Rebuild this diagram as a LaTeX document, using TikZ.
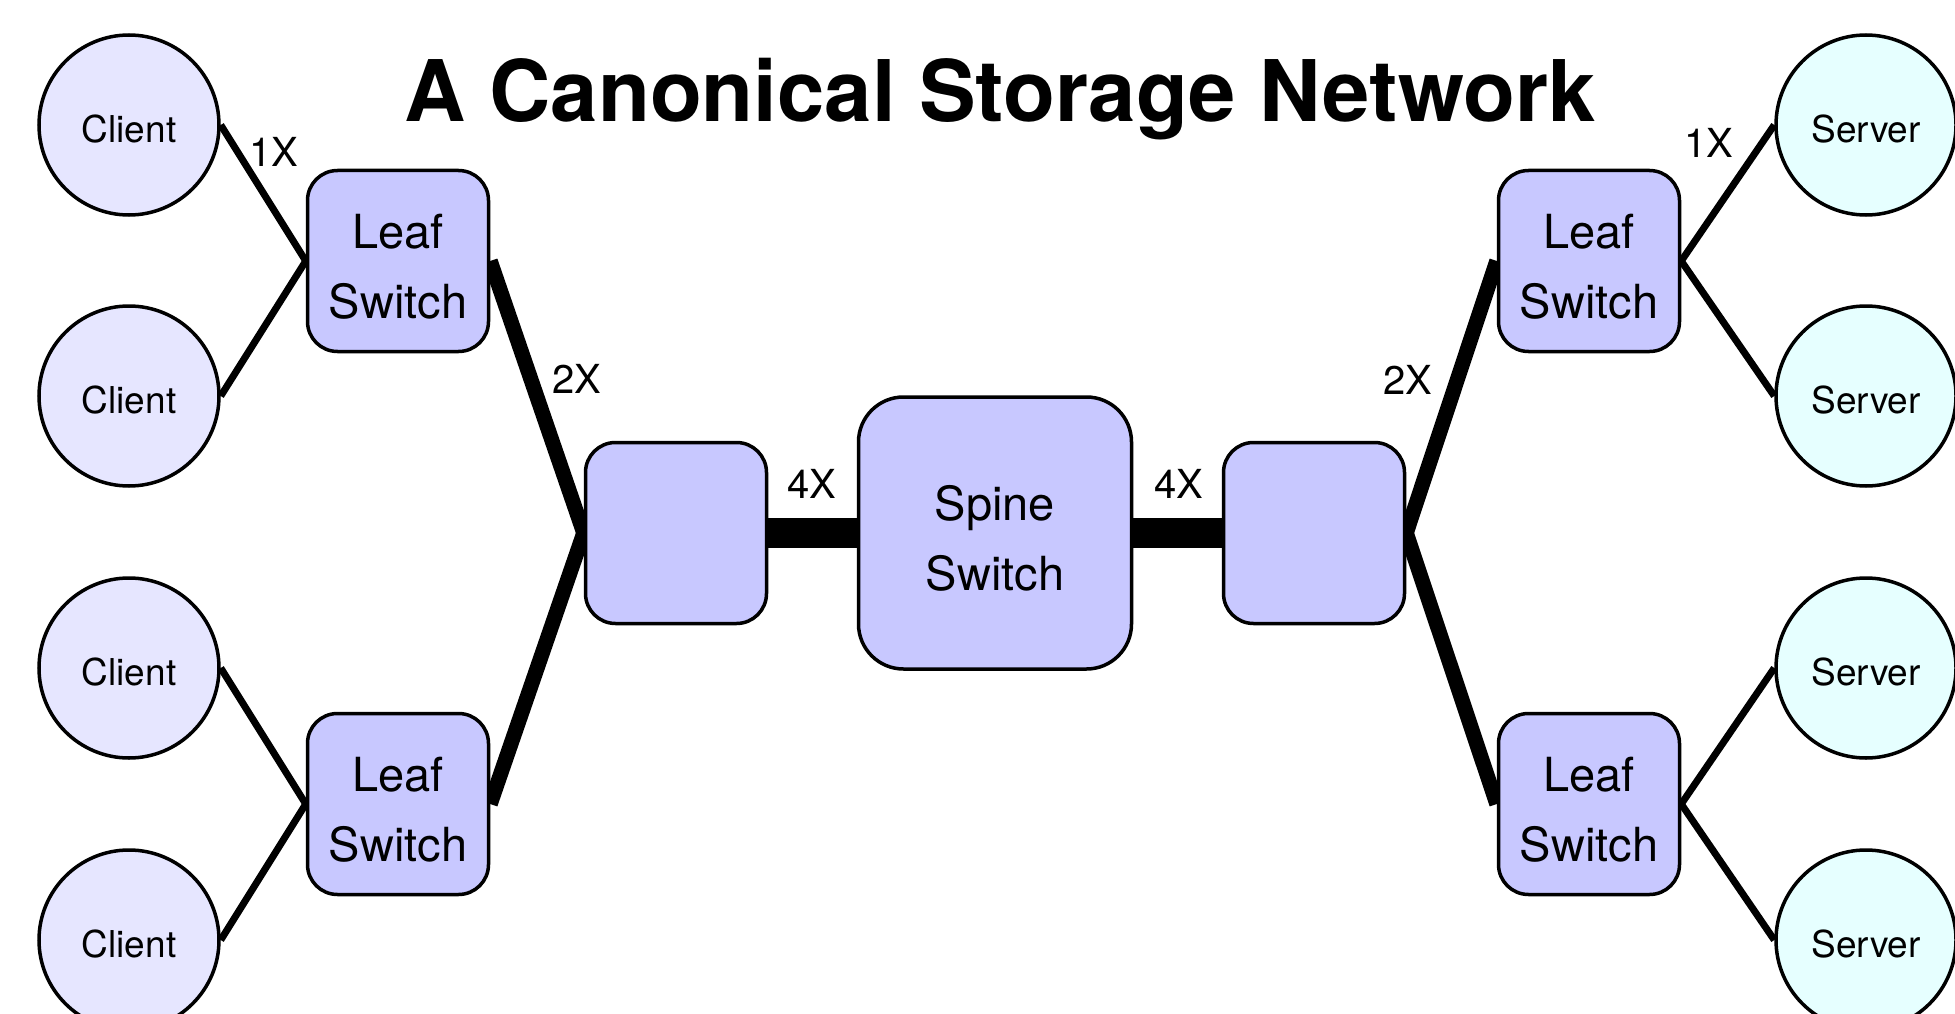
\documentclass[tikz,border=0pt]{standalone}
\usepackage{fontspec}
\setmainfont{TeX Gyre Heros}
\usetikzlibrary{backgrounds}
\definecolor{clientfill}{RGB}{230,230,255}
\definecolor{serverfill}{RGB}{230,255,255}
\definecolor{switchfill}{RGB}{200,200,255}
% taller first line, so two-line labels sit a little lower in their boxes
\newcommand{\firstline}{\rule{0pt}{45pt}}
\begin{document}
\begin{tikzpicture}[x=1pt,y=-1pt,
  host/.style={circle,draw=black,line width=3.5pt,minimum size=180pt,inner sep=0pt,
    text height=35pt,text depth=0pt,font=\fontsize{37}{44}\selectfont},
  client/.style={host,fill=clientfill},
  server/.style={host,fill=serverfill},
  switchbox/.style={draw=black,line width=3.5pt,fill=switchfill,rounded corners=30pt,
    minimum width=181pt,minimum height=181pt,inner sep=0pt,align=center,
    font=\fontsize{47}{70}\selectfont},
  spinebox/.style={switchbox,rounded corners=45pt,minimum width=273pt,minimum height=272pt},
  link1/.style={line width=7pt},
  link2/.style={line width=15pt},
  link4/.style={line width=30pt},
  mult/.style={font=\fontsize{40}{48}\selectfont,inner sep=0pt}
]
\useasboundingbox (0,0) rectangle (1955,1014);
\clip (0,0) rectangle (1955,1014);

% title
\node[font=\fontsize{85}{100}\selectfont\bfseries,anchor=base] (title) at (1000,122)
  {A Canonical Storage Network};

% hosts
\node[client] (c1) at (129,125) {Client};
\node[client] (c2) at (129,396) {Client};
\node[client] (c3) at (129,668) {Client};
\node[client] (c4) at (129,940) {Client};
\node[server] (s1) at (1866,125) {Server};
\node[server] (s2) at (1866,396) {Server};
\node[server] (s3) at (1866,668) {Server};
\node[server] (s4) at (1866,940) {Server};

% switches
\node[switchbox] (ll1) at (398,261) {\firstline Leaf\\Switch};
\node[switchbox] (ll2) at (398,804) {\firstline Leaf\\Switch};
\node[switchbox] (rl1) at (1589,261) {\firstline Leaf\\Switch};
\node[switchbox] (rl2) at (1589,804) {\firstline Leaf\\Switch};
\node[switchbox] (lm) at (676,533) {};
\node[switchbox] (rm) at (1314,533) {};
\node[spinebox] (spine) at (995,533) {\firstline Spine\\Switch};

% link multiplicities
\node[mult] (m1l) at (274,152) {1X};
\node[mult] (m2l) at (577,379) {2X};
\node[mult] (m4l) at (812,484) {4X};
\node[mult] (m4r) at (1179,484) {4X};
\node[mult] (m2r) at (1408,380) {2X};
\node[mult] (m1r) at (1709,143) {1X};

% links
\begin{pgfonlayer}{background}
  \draw[link1] (c1.east) -- (ll1.west);
  \draw[link1] (c2.east) -- (ll1.west);
  \draw[link1] (c3.east) -- (ll2.west);
  \draw[link1] (c4.east) -- (ll2.west);
  \draw[link1] (s1.west) -- (rl1.east);
  \draw[link1] (s2.west) -- (rl1.east);
  \draw[link1] (s3.west) -- (rl2.east);
  \draw[link1] (s4.west) -- (rl2.east);
  \draw[link2] (ll1.east) -- (lm.west);
  \draw[link2] (ll2.east) -- (lm.west);
  \draw[link2] (rl1.west) -- (rm.east);
  \draw[link2] (rl2.west) -- (rm.east);
  \draw[link4] (lm.east) -- (spine.west);
  \draw[link4] (spine.east) -- (rm.west);
\end{pgfonlayer}
\end{tikzpicture}
\end{document}
